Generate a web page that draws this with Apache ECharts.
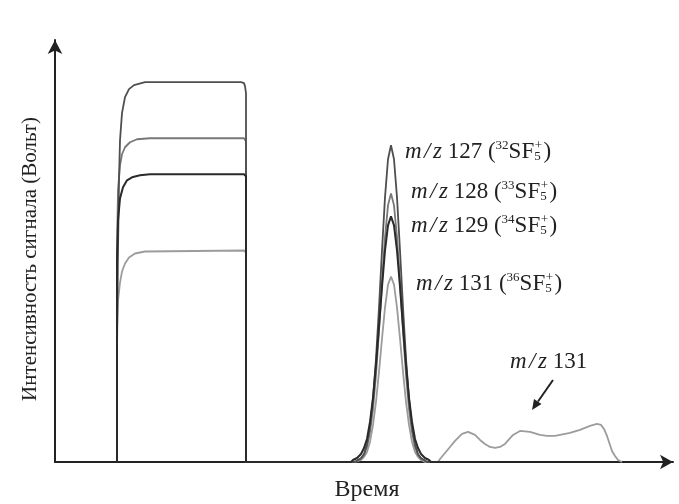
<!DOCTYPE html>
<html>
<head>
<meta charset="utf-8">
<script src="https://cdn.jsdelivr.net/npm/echarts@6/dist/echarts.min.js"></script>
<style>
html,body{margin:0;padding:0;background:#fff;}
#c{width:679px;height:504px;}
</style>
</head>
<body>
<div id="c"></div>
<script>
// Time (arbitrary units) vs signal intensity (arbitrary units)
const mz127 = [[62,0],[62,111],[63,211],[64,281],[65,321],[67,348],[70,364],[74,372],[79,376],[90,379],[140,379],[186,379],[189,378],[190,375],[191,368],[191,0],
  [300,0],[303,2],[306,4],[309,8],[312,18],[315,35],[318,63],[321,103],[324,154],[327,211],[330,264],[333,302],[336,316],[339,302],[342,264],[345,211],[348,154],[351,103],[354,63],[357,35],[360,18],[363,8],[366,4],[369,2],[372,0],[385,0]];
const mz128 = [[62,0],[62,211],[63,271],[65,296],[67,307],[70,314],[75,319],[82,322],[95,323],[189,323],[191,320],[191,0],
  [300,0],[303,2],[306,3],[309,7],[312,15],[315,30],[318,53],[321,87],[324,131],[327,179],[330,224],[333,256],[336,268],[339,256],[342,224],[345,179],[348,131],[351,87],[354,53],[357,30],[360,15],[363,7],[366,3],[369,2],[372,0],[385,0]];
const mz129 = [[62,0],[62,201],[63,241],[65,263],[68,274],[72,281],[77,284],[85,286],[95,287],[189,287],[191,285],[191,0],
  [296,0],[298,2],[302,4],[306,8],[309,14],[312,23],[315,40],[318,64],[321,97],[324,135],[327,175],[330,211],[333,236],[336,245],[339,236],[342,211],[345,175],[348,135],[351,97],[354,64],[357,40],[360,23],[363,14],[366,8],[370,4],[374,2],[376,0],[385,0]];
const mz131 = [[62,0],[62,131],[63,161],[65,179],[67,190],[70,198],[74,204],[80,208],[90,210],[189,211],[191,209],[191,0],
  [300,0],[303,1],[306,2],[309,5],[312,10],[315,20],[318,37],[321,60],[324,90],[327,123],[330,154],[333,177],[336,185],[339,177],[342,154],[345,123],[348,90],[351,60],[354,37],[357,20],[360,10],[363,5],[366,2],[370,0],[383,0],
  [385,3],[390,9],[395,15],[400,21],[407,28],[413,30],[420,27],[425,22],[430,18],[435,15],[440,14],[445,15],[450,18],[458,27],[465,31],[475,30],[485,27],[492,26],[500,26],[505,27],[515,29],[525,32],[535,36],[542,38],[546,37],[549,33],[552,26],[555,17],[557,11],[560,6],[563,2],[567,0]];

const labelMass = ['127','128','129','131'];
const labelIso = ['32','33','34','36'];
const xTitle = 'Время';
const yTitle = 'Интенсивность сигнала (Вольт)';
const arrowLabelMass = '131';

const SERIF = '"Liberation Serif","Times New Roman",serif';
const chart = echarts.init(document.getElementById('c'));

const ctx = document.createElement('canvas').getContext('2d');
function tw(font, s){ ctx.font = font; return ctx.measureText(s).width; }

const FS = 23, SFS = 13;
const fMain = FS + 'px ' + SERIF;
const fItal = 'italic ' + FS + 'px ' + SERIF;
const fSmall = SFS + 'px ' + SERIF;
function txt(x, y, s, font, extra){
  return Object.assign({type:'text', x:x, y:y, silent:true,
    style:{text:s, font:font, fill:'#222', textAlign:'left', textVerticalAlign:'middle', align:'left', verticalAlign:'middle'}}, extra||{});
}
function mzText(x, y){
  // italic "m/z" drawn slightly spread, as in the reference
  const els = [];
  let cx = x;
  ['m','/','z'].forEach((ch,i)=>{ els.push(txt(cx, y, ch, fItal)); cx += tw(fItal, ch) + (i<2 ? 2.5 : 0); });
  return {els:els, end:cx};
}
function isoLabel(x, y, mass, iso){
  const r = mzText(x, y);
  const els = r.els;
  let cx = r.end;
  const mid = ' ' + mass + ' (';
  els.push(txt(cx, y, mid, fMain)); cx += tw(fMain, mid);
  els.push(txt(cx, y - 6, iso, fSmall)); cx += tw(fSmall, iso);
  els.push(txt(cx, y, 'SF', fMain)); cx += tw(fMain, 'SF');
  els.push(txt(cx + 0.5, y - 6, '+', fSmall));
  els.push(txt(cx, y + 5, '5', fSmall)); cx += Math.max(tw(fSmall,'5'), tw(fSmall,'+')) + 2;
  els.push(txt(cx, y, ')', fMain));
  return els;
}
const labelPos = [[405,152],[411,192],[411,226],[416,284]];
let graphics = [];
labelMass.forEach((m,i)=>{ graphics = graphics.concat(isoLabel(labelPos[i][0], labelPos[i][1], m, labelIso[i])); });
// "m/z 131" with arrow
const r131 = mzText(510, 362);
graphics = graphics.concat(r131.els);
graphics.push(txt(r131.end, 362, ' ' + arrowLabelMass, fMain));
graphics.push({type:'line', silent:true, shape:{x1:553, y1:380, x2:538, y2:401.5}, style:{stroke:'#222', lineWidth:2}});
graphics.push({type:'polygon', silent:true, shape:{points:[[532,410],[541.5,404],[534,399]]}, style:{fill:'#222'}});
// axis titles
graphics.push({type:'text', x:367, y:490, silent:true, style:{text:xTitle, font:'24px ' + SERIF, fill:'#222', textAlign:'center', textVerticalAlign:'middle', align:'center', verticalAlign:'middle'}});
graphics.push({type:'text', x:30, y:259, rotation:Math.PI/2, silent:true, style:{text:yTitle, font:'21px ' + SERIF, fill:'#222', textAlign:'center', textVerticalAlign:'middle', align:'center', verticalAlign:'middle'}});

function ser(name, data, color, w){
  return {type:'line', name:name, data:data, showSymbol:false, symbol:'none', smooth:false,
    lineStyle:{color:color, width:w}, itemStyle:{color:color}, animation:false, silent:true};
}

chart.setOption({
  animation:false,
  backgroundColor:'#fff',
  grid:{left:55, right:6, top:40, bottom:42},
  xAxis:{type:'value', min:0, max:618, axisLabel:{show:false}, axisTick:{show:false}, splitLine:{show:false},
    axisLine:{show:true, onZero:false, symbol:['none','arrow'], symbolSize:[11,13], lineStyle:{color:'#222', width:2}}},
  yAxis:{type:'value', min:0, max:421, axisLabel:{show:false}, axisTick:{show:false}, splitLine:{show:false},
    axisLine:{show:true, onZero:false, symbol:['none','arrow'], symbolSize:[11,14], lineStyle:{color:'#222', width:2}}},
  series:[
    ser('m/z 131', mz131, '#9c9c9c', 1.8),
    ser('m/z 128', mz128, '#777777', 1.8),
    ser('m/z 127', mz127, '#4f4f4f', 1.8),
    ser('m/z 129', mz129, '#2a2a2a', 2)
  ],
  graphic:graphics
});
</script>
</body>
</html>
